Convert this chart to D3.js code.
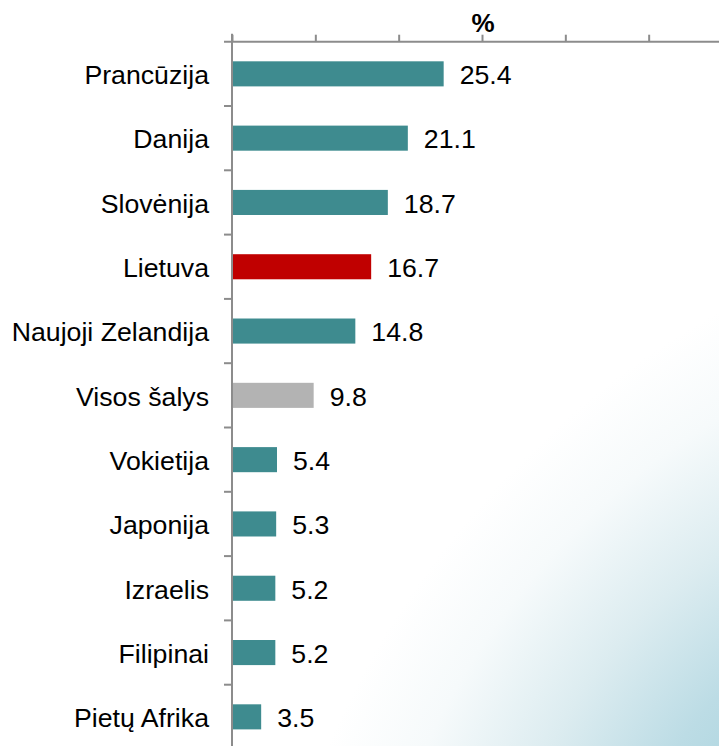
<!DOCTYPE html>
<html>
<head>
<meta charset="utf-8">
<script src="https://cdn.jsdelivr.net/npm/d3@7"></script>
<style>
  html, body { margin: 0; padding: 0; background: #fff; }
  svg { display: block; }
</style>
</head>
<body>
<div id="chart"></div>
<script>
  // data
  var countries = ['Prancūzija', 'Danija', 'Slovėnija', 'Lietuva', 'Naujoji Zelandija',
    'Visos šalys', 'Vokietija', 'Japonija', 'Izraelis', 'Filipinai', 'Pietų Afrika'];
  var values = [25.4, 21.1, 18.7, 16.7, 14.8, 9.8, 5.4, 5.3, 5.2, 5.2, 3.5];
  var xTicks = [0, 10, 20, 30, 40, 50];
  var axisTitle = '%';

  var width = 719, height = 746;
  var marginLeft = 232, marginTop = 41.7;

  var colorFor = function(name) {
    if (name === 'Lietuva') return '#c00000';
    if (name === 'Visos šalys') return '#b3b3b3';
    return '#3e8b8f';
  };

  var svg = d3.select('#chart')
    .append('svg')
    .attr('width', width)
    .attr('height', height)
    .style('font-family', 'Liberation Sans, Arial, sans-serif');

  // soft background wash in the bottom right corner
  var defs = svg.append('defs');
  var grad = defs.append('radialGradient')
    .attr('id', 'wash')
    .attr('gradientUnits', 'userSpaceOnUse')
    .attr('cx', 800).attr('cy', 800).attr('r', 640)
    .attr('gradientTransform', 'translate(800,800) rotate(-50) scale(1,0.68) translate(-800,-800)');
  grad.append('stop').attr('offset', 0).attr('stop-color', '#a3d1dc');
  grad.append('stop').attr('offset', 0.3).attr('stop-color', '#bcdce5');
  grad.append('stop').attr('offset', 0.55).attr('stop-color', '#dcecf0');
  grad.append('stop').attr('offset', 0.8).attr('stop-color', '#f6fafb');
  grad.append('stop').attr('offset', 1).attr('stop-color', '#ffffff');
  svg.append('rect')
    .attr('width', width)
    .attr('height', height)
    .attr('fill', 'url(#wash)');

  var x = d3.scaleLinear()
    .domain([0, 60])
    .range([marginLeft, marginLeft + 500]);

  var y = d3.scaleBand()
    .domain(countries)
    .range([marginTop, marginTop + 64.3 * countries.length])
    .paddingInner(0.61)
    .paddingOuter(0.305);

  var step = y.step();

  // x axis on top
  var xAxis = svg.append('g')
    .attr('transform', 'translate(0,' + marginTop + ')')
    .call(d3.axisTop(x).tickValues(xTicks).tickSize(7).tickFormat(''));
  xAxis.select('.domain').attr('d', 'M224,0H' + width);
  xAxis.selectAll('line, path').attr('stroke', '#8c8c8c').attr('stroke-width', 2);

  svg.append('text')
    .attr('x', x(30) + 1)
    .attr('y', 32)
    .attr('text-anchor', 'middle')
    .style('font-size', '26px')
    .style('font-weight', 'bold')
    .text(axisTitle);

  // y axis with ticks between categories
  var gy = svg.append('g');
  gy.append('line')
    .attr('x1', marginLeft).attr('x2', marginLeft)
    .attr('y1', marginTop - 8).attr('y2', height)
    .attr('stroke', '#8c8c8c').attr('stroke-width', 2);
  gy.selectAll('line.sep')
    .data(countries.slice(1))
    .enter().append('line')
    .attr('class', 'sep')
    .attr('x1', marginLeft - 8).attr('x2', marginLeft)
    .attr('y1', function(d) { return y(d) - (step - y.bandwidth()) / 2; })
    .attr('y2', function(d) { return y(d) - (step - y.bandwidth()) / 2; })
    .attr('stroke', '#8c8c8c').attr('stroke-width', 2);

  var rows = svg.selectAll('g.row')
    .data(countries)
    .enter().append('g')
    .attr('class', 'row');

  rows.append('rect')
    .attr('x', x(0) + 1)
    .attr('y', function(d) { return y(d); })
    .attr('width', function(d, i) { return x(values[i]) - x(0) - 1; })
    .attr('height', y.bandwidth())
    .attr('fill', function(d) { return colorFor(d); });

  rows.append('text')
    .attr('x', marginLeft - 23)
    .attr('y', function(d) { return y(d) + y.bandwidth() / 2 + 1; })
    .attr('dy', '0.35em')
    .attr('text-anchor', 'end')
    .style('font-size', '26.7px')
    .attr('fill', '#000')
    .text(function(d) { return d; });

  rows.append('text')
    .attr('x', function(d, i) { return x(values[i]) + 16; })
    .attr('y', function(d) { return y(d) + y.bandwidth() / 2 + 1; })
    .attr('dy', '0.35em')
    .style('font-size', '26.7px')
    .attr('fill', '#000')
    .text(function(d, i) { return values[i].toFixed(1); });
</script>
</body>
</html>
